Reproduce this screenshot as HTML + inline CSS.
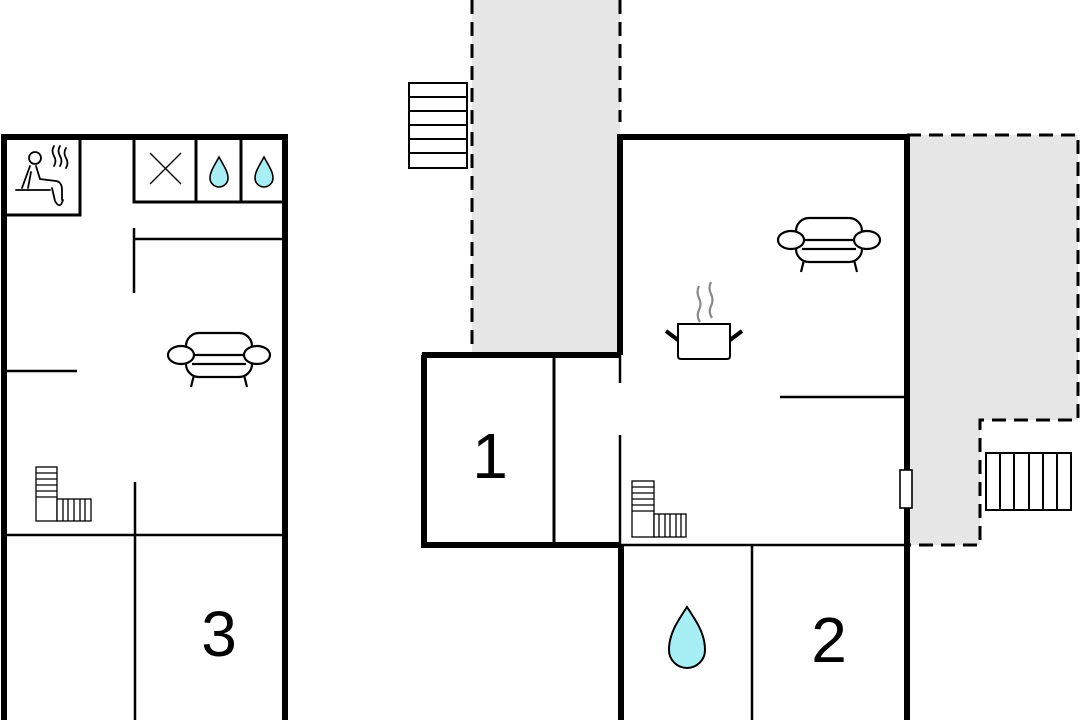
<!DOCTYPE html>
<html><head><meta charset="utf-8"><style>
html,body{margin:0;padding:0;background:#fff;width:1080px;height:720px;overflow:hidden}
svg{display:block}
text{font-family:"Liberation Sans",sans-serif}
</style></head><body>
<svg width="1080" height="720" viewBox="0 0 1080 720" xmlns="http://www.w3.org/2000/svg">
<defs>
<g id="couch" fill="#fff" stroke="#000" stroke-width="2.2">
<path d="M-25,20 L-28,32 M25,20 L28,32"/>
<rect x="-33" y="-22" width="66" height="44" rx="13"/>
<line x1="-30" y1="0" x2="30" y2="0"/>
<ellipse cx="-38" cy="0" rx="13" ry="9"/>
<ellipse cx="38" cy="0" rx="13" ry="9"/>
<line x1="-27" y1="9" x2="27" y2="9"/>
</g>
<path id="drop" d="M0,-15 C5,-6 9,0 9,6 A9,9 0 0 1 -9,6 C-9,0 -5,-6 0,-15 Z" fill="#a8eef5" stroke="#000" stroke-width="1.6"/>
</defs>

<rect x="472" y="0" width="148" height="355" fill="#e6e6e6"/>
<path d="M907,135 H1078 V420 H980 V545 H907 Z" fill="#e6e6e6"/>

<g stroke="#000" stroke-width="3" stroke-dasharray="14,8" fill="none">
<line x1="472" y1="0" x2="472" y2="355"/>
<line x1="620" y1="0" x2="620" y2="122"/>
<path d="M907,135 H1078 V420 H980 V545 H907"/>
</g>

<g stroke="#000" fill="none">
<path d="M4,720 V137 H285 V720" stroke-width="6"/>
<path d="M4,215 H80 V137" stroke-width="3"/>
<path d="M134,137 V202 H285 M196,137 V202 M241,137 V202" stroke-width="3"/>
<path d="M134,228 V293 M134,239 H285" stroke-width="2.5"/>
<path d="M4,371 H77" stroke-width="2.5"/>
<path d="M135,482 V720 M4,535 H285" stroke-width="2.5"/>
<path d="M150,153 L181,184 M181,153 L150,184" stroke-width="1.4"/>
</g>
<use href="#drop" x="219" y="172"/>
<use href="#drop" x="264" y="172"/>

<g stroke="#000" stroke-width="1.8" fill="none" stroke-linecap="round">
<circle cx="35" cy="158" r="6" fill="#fff"/>
<path d="M30,166 L22,188 M36,166 L40,179 L56,181 Q62,182 62,190 L62,200"/>
<path d="M31,172 L28,188"/>
<path d="M52,188 L55,201 Q60,210 63,200"/>
<path d="M16,190 H50"/>
<path d="M54,146 q-3,5 0,10 q3,5 0,10 M60,146 q-3,5 0,10 q3,5 0,10 M66,148 q-3,5 0,10 q3,5 0,10"/>
</g>

<use href="#couch" x="219" y="355"/>

<g stroke="#000" stroke-width="1.3" fill="#fff">
<rect x="36" y="467" width="21" height="54"/>
<path d="M36,473 H57 M36,479 H57 M36,485 H57 M36,491 H57 M36,497 H57"/>
<rect x="57" y="499" width="34" height="22"/>
<path d="M63,499 V521 M68,499 V521 M74,499 V521 M80,499 V521 M85,499 V521"/>
</g>

<g stroke="#000" fill="none">
<path d="M620,355 V137 H907 V720" stroke-width="6"/>
<path d="M422,355 H620 M424,355 V545 H620" stroke-width="6"/>
<path d="M621,545 V720" stroke-width="6"/>
<path d="M554,355 V545" stroke-width="3"/>
<path d="M620,355 V383 M620,435 V545" stroke-width="2.5"/>
<path d="M620,545 H907 M752,545 V720" stroke-width="2.5"/>
<path d="M780,397 H907" stroke-width="2.5"/>
</g>
<rect x="900" y="470" width="12" height="38" fill="#fff" stroke="#000" stroke-width="1.6"/>

<g stroke="#000" stroke-width="2" fill="#fff">
<rect x="409" y="83" width="58" height="85"/>
<path d="M409,97 H467 M409,111 H467 M409,125 H467 M409,139 H467 M409,153 H467"/>
</g>
<g stroke="#000" stroke-width="2" fill="#fff">
<rect x="986" y="453" width="85" height="57"/>
<path d="M1000,453 V510 M1014,453 V510 M1029,453 V510 M1043,453 V510 M1057,453 V510"/>
</g>
<g stroke="#000" stroke-width="1.3" fill="#fff">
<rect x="632" y="481" width="22" height="56"/>
<path d="M632,487 H654 M632,493 H654 M632,499 H654 M632,505 H654 M632,511 H654"/>
<rect x="654" y="514" width="32" height="23"/>
<path d="M659,514 V537 M665,514 V537 M670,514 V537 M676,514 V537 M681,514 V537"/>
</g>

<g stroke="#000" fill="none">
<path d="M678,324 H730 V356 Q730,359 727,359 H681 Q678,359 678,356 Z" stroke-width="2" fill="#fff"/>
<path d="M666,331 L678,340 M742,331 L730,340" stroke-width="4"/>
<path d="M700,322 q-4,-6 -1,-12 q3,-6 0,-12 q-3,-6 0,-12" stroke="#888" stroke-width="2.2"/>
<path d="M712,318 q-4,-6 -1,-12 q3,-6 0,-12 q-3,-6 0,-12" stroke="#888" stroke-width="2.2"/>
</g>

<use href="#couch" x="829" y="240"/>

<path d="M687,607 C697,622 705,634 705,650 A18,18 0 0 1 669,650 C669,634 677,622 687,607 Z" fill="#a8eef5" stroke="#000" stroke-width="2"/>

<text x="490" y="478" font-size="64" text-anchor="middle">1</text>
<text x="219" y="656" font-size="64" text-anchor="middle">3</text>
<text x="829" y="662" font-size="64" text-anchor="middle">2</text>
</svg>
</body></html>
